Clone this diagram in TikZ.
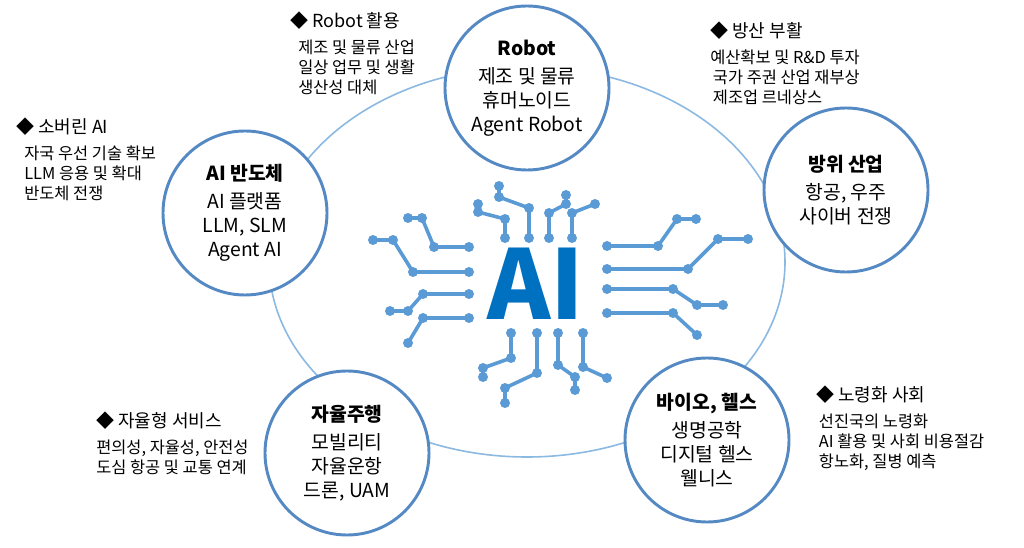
\documentclass[tikz,border=0pt]{standalone}
\usepackage{fontspec}
\setmainfont{Noto Sans CJK KR}
\begin{document}
\begin{tikzpicture}[x=0.75pt,y=-0.75pt,
  trc/.style={draw=tr,line width=2.7pt,line cap=round,line join=round},
  hub/.style={circle,draw=cb,line width=2.2pt,fill=white,minimum size=164*0.75pt,inner sep=0pt,align=center,font=\fontsize{14.5}{18}\selectfont},
  note/.style={anchor=north west,align=left,font=\fontsize{12.3}{15}\selectfont,inner sep=0pt}]
\definecolor{tr}{RGB}{91,155,213}
\definecolor{cb}{RGB}{84,137,196}
\definecolor{el}{RGB}{140,185,225}
\definecolor{ai}{RGB}{0,112,192}
\useasboundingbox (0,0) rectangle (1024,548);
\draw[el,line width=1.2pt] (527,262) ellipse [x radius=258,y radius=195];
% traces
\foreach \p in {
 {499/186,499/197,529/208,529/238},
 {478/204,478/212,505/219,505/238},
 {566/195,566/204,549/213,549/238},
 {595/204,572/213,572/238},
 {408/218,422/218,434/247,469/247},
 {373/240,393/240,413/272,469/272},
 {390/311,408/311,423/294,469/294},
 {408/343,423/318,469/318},
 {607/246,658/246,677/219,696/219},
 {607/269,688/269,718/239,748/239},
 {607/289,673/289,697/305,723/305},
 {607/313,673/313,697/335},
 {511/333,511/358,483/368,483/377},
 {537/333,537/373,505/388,505/403},
 {558/333,558/365,575/377,575/390},
 {583/333,583/367,607/378}}{
  \foreach \a/\b [count=\i] in \p {
    \coordinate (cur) at (\a,\b);
    \ifnum\i>1 \draw[trc] (prev) -- (cur); \fi
    \fill[tr] (cur) circle [radius=5];
    \coordinate (prev) at (\a,\b);
  }
}
\node[font=\fontsize{72}{72}\selectfont\bfseries,text=ai,inner sep=0pt] (ai) at (536,284) {AI};
% hubs
\node[hub] (rob) at (527,88) {\textbf{Robot}\\[3pt]제조 및 물류\\휴머노이드\\Agent Robot};
\node[hub] (sem) at (245,213) {\textbf{AI 반도체}\\[3pt]AI 플랫폼\\LLM, SLM\\Agent AI};
\node[hub] (def) at (846,190) {\textbf{방위 산업}\\[3pt]항공, 우주\\사이버 전쟁};
\node[hub] (car) at (347,453) {\textbf{자율주행}\\[3pt]모빌리티\\자율운항\\드론, UAM};
\node[hub] (bio) at (707,440) {\textbf{바이오, 헬스}\\[3pt]생명공학\\디지털 헬스\\웰니스};
% notes
\node[note] (n1) at (290,12) {{\fontsize{13.5}{15}\selectfont ◆ Robot 활용}\\[4pt]\hspace*{6pt}제조 및 물류 산업\\\hspace*{6pt}일상 업무 및 생활\\\hspace*{6pt}생산성 대체};
\node[note] (n2) at (16,118) {{\fontsize{13.5}{15}\selectfont ◆ 소버린 AI}\\[4pt]\hspace*{6pt}자국 우선 기술 확보\\\hspace*{6pt}LLM 응용 및 확대\\\hspace*{6pt}반도체 전쟁};
\node[note] (n3) at (710,22) {{\fontsize{13.5}{15}\selectfont ◆ 방산 부활}\\[4pt]예산확보 및 R\&D 투자\\\hspace*{2pt}국가 주권 산업 재부상\\\hspace*{2pt}제조업 르네상스};
\node[note] (n4) at (96,412) {{\fontsize{13.5}{15}\selectfont ◆ 자율형 서비스}\\[4pt]편의성, 자율성, 안전성\\도심 항공 및 교통 연계};
\node[note] (n5) at (816,386) {{\fontsize{13.5}{15}\selectfont ◆ 노령화 사회}\\[4pt]\hspace*{2pt}선진국의 노령화\\\hspace*{2pt}AI 활용 및 사회 비용절감\\\hspace*{2pt}항노화, 질병 예측};
\end{tikzpicture}
\end{document}
